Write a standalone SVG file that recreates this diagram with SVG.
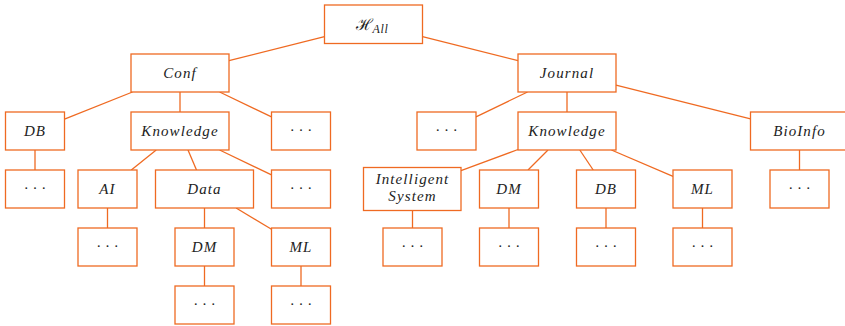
<svg xmlns="http://www.w3.org/2000/svg" width="845" height="326" viewBox="0 0 845 326">
<style>
.box{fill:#fff;stroke:#EF6A22;stroke-width:1.3}
.edge{stroke:#EF6A22;stroke-width:1.3;fill:none}
.t{font-family:"Liberation Serif",serif;font-style:italic;font-size:15px;letter-spacing:1.1px;fill:#222;text-anchor:middle}
.d{font-family:"Liberation Serif",serif;font-size:15px;fill:#222;text-anchor:middle}
</style>
<rect width="845" height="326" fill="#fff"/>
<g id="connectors">
<line class="edge" x1="324.5" y1="36.6" x2="229" y2="60.7"/>
<line class="edge" x1="422.5" y1="36.6" x2="518" y2="60.7"/>
<line class="edge" x1="132.5" y1="92" x2="64.5" y2="119.2"/>
<line class="edge" x1="180" y1="92" x2="180" y2="112"/>
<line class="edge" x1="219.6" y1="92" x2="271.5" y2="116.9"/>
<line class="edge" x1="156.2" y1="150" x2="131.3" y2="170"/>
<line class="edge" x1="188" y1="150" x2="196.5" y2="170"/>
<line class="edge" x1="219.6" y1="150" x2="271.5" y2="174.9"/>
<line class="edge" x1="35" y1="150" x2="35" y2="170"/>
<line class="edge" x1="107.5" y1="208" x2="107.5" y2="228"/>
<line class="edge" x1="204.5" y1="208" x2="204.5" y2="228"/>
<line class="edge" x1="236.1" y1="208" x2="271.5" y2="229.3"/>
<line class="edge" x1="204.5" y1="266" x2="204.5" y2="286"/>
<line class="edge" x1="301" y1="266" x2="301" y2="286"/>
<line class="edge" x1="527.5" y1="92" x2="476" y2="116.8"/>
<line class="edge" x1="567" y1="92" x2="567" y2="112"/>
<line class="edge" x1="616" y1="85.2" x2="750.5" y2="118.8"/>
<line class="edge" x1="518" y1="149.5" x2="461" y2="170.7"/>
<line class="edge" x1="548" y1="150" x2="528" y2="170"/>
<line class="edge" x1="579.8" y1="150" x2="593.2" y2="170"/>
<line class="edge" x1="611.4" y1="150" x2="673" y2="176.4"/>
<line class="edge" x1="799.5" y1="150" x2="799.5" y2="170"/>
<line class="edge" x1="412.5" y1="210.5" x2="412.5" y2="228"/>
<line class="edge" x1="509" y1="208" x2="509" y2="228"/>
<line class="edge" x1="606" y1="208" x2="606" y2="228"/>
<line class="edge" x1="702.5" y1="208" x2="702.5" y2="228"/>
</g>
<g id="root"><rect class="box" x="324.5" y="5" width="98" height="38.5"/><text class="t" x="372" y="30" style="letter-spacing:0"><tspan font-family="DejaVu Serif" font-style="normal" font-size="16">ℋ</tspan><tspan font-size="12" dy="2.5" letter-spacing="0.6">All</tspan></text></g>
<g id="conf"><rect class="box" x="131" y="54" width="98" height="38"/><text class="t" x="180" y="78">Conf</text></g>
<g id="journal"><rect class="box" x="518" y="54" width="98" height="38"/><text class="t" x="567" y="78">Journal</text></g>
<g id="conf-db"><rect class="box" x="5.5" y="112" width="59" height="38"/><text class="t" x="35" y="136">DB</text></g>
<g id="conf-knowledge"><rect class="box" x="131" y="112" width="98" height="38"/><text class="t" x="180" y="136">Knowledge</text></g>
<g id="conf-more"><rect class="box" x="271.5" y="112" width="59" height="38"/><text class="d" x="301" y="135">· · ·</text></g>
<g id="conf-db-more"><rect class="box" x="5.5" y="170" width="59" height="38"/><text class="d" x="35" y="193">· · ·</text></g>
<g id="ai"><rect class="box" x="78" y="170" width="59" height="38"/><text class="t" x="107.5" y="194">AI</text></g>
<g id="data"><rect class="box" x="155.5" y="170" width="98" height="38"/><text class="t" x="204.5" y="194">Data</text></g>
<g id="conf-knowledge-more"><rect class="box" x="271.5" y="170" width="59" height="38"/><text class="d" x="301" y="193">· · ·</text></g>
<g id="ai-more"><rect class="box" x="78" y="228" width="59" height="38"/><text class="d" x="107.5" y="251">· · ·</text></g>
<g id="data-dm"><rect class="box" x="175" y="228" width="59" height="38"/><text class="t" x="204.5" y="252">DM</text></g>
<g id="data-ml"><rect class="box" x="271.5" y="228" width="59" height="38"/><text class="t" x="301" y="252">ML</text></g>
<g id="data-dm-more"><rect class="box" x="175" y="286" width="59" height="38"/><text class="d" x="204.5" y="309">· · ·</text></g>
<g id="data-ml-more"><rect class="box" x="271.5" y="286" width="59" height="38"/><text class="d" x="301" y="309">· · ·</text></g>
<g id="journal-more"><rect class="box" x="417" y="112" width="59" height="38"/><text class="d" x="446.5" y="135">· · ·</text></g>
<g id="journal-knowledge"><rect class="box" x="518" y="112" width="98" height="38"/><text class="t" x="567" y="136">Knowledge</text></g>
<g id="bioinfo"><rect class="box" x="750.5" y="112" width="98" height="38"/><text class="t" x="799.5" y="136">BioInfo</text></g>
<g id="intelligent-system"><rect class="box" x="363.5" y="167.5" width="97.5" height="43"/><text class="t" x="412.5" y="183.5">Intelligent</text><text class="t" x="412.5" y="201">System</text></g>
<g id="j-dm"><rect class="box" x="479.5" y="170" width="59" height="38"/><text class="t" x="509" y="194">DM</text></g>
<g id="j-db"><rect class="box" x="576.5" y="170" width="59" height="38"/><text class="t" x="606" y="194">DB</text></g>
<g id="j-ml"><rect class="box" x="673" y="170" width="59" height="38"/><text class="t" x="702.5" y="194">ML</text></g>
<g id="bioinfo-more"><rect class="box" x="770" y="170" width="59" height="38"/><text class="d" x="799.5" y="193">· · ·</text></g>
<g id="is-more"><rect class="box" x="383" y="228" width="59" height="38"/><text class="d" x="412.5" y="251">· · ·</text></g>
<g id="j-dm-more"><rect class="box" x="479.5" y="228" width="59" height="38"/><text class="d" x="509" y="251">· · ·</text></g>
<g id="j-db-more"><rect class="box" x="576.5" y="228" width="59" height="38"/><text class="d" x="606" y="251">· · ·</text></g>
<g id="j-ml-more"><rect class="box" x="673" y="228" width="59" height="38"/><text class="d" x="702.5" y="251">· · ·</text></g>
</svg>
